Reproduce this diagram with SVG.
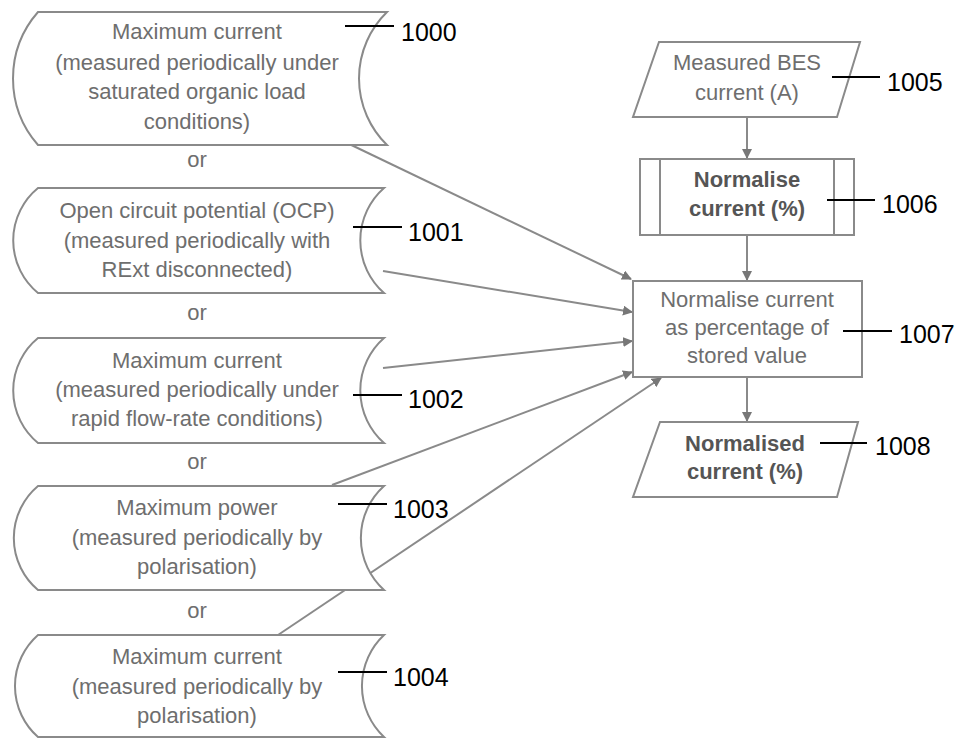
<svg xmlns="http://www.w3.org/2000/svg" width="961" height="740" viewBox="0 0 961 740">
<defs>
<style>
.sh{fill:#fff;stroke:#8a8a8a;stroke-width:2}
.t{font-family:"Liberation Sans",Arial,sans-serif;font-size:22px;fill:#6e6e6e;text-anchor:middle}
.b{font-weight:bold;fill:#555}
.lb{font-family:"Liberation Sans",Arial,sans-serif;font-size:25px;fill:#000}
.ld{stroke:#000;stroke-width:2}
.cn{stroke:#8a8a8a;stroke-width:2;fill:none;marker-end:url(#ah)}
</style>
<marker id="ah" viewBox="0 0 10 10" refX="9" refY="5" markerWidth="10" markerHeight="10" markerUnits="userSpaceOnUse" orient="auto">
<path d="M0,0 L10,5 L0,10 z" fill="#777"/>
</marker>
</defs>
<rect width="961" height="740" fill="#fff"/>

<g id="connectors">
<line class="cn" x1="343" y1="141" x2="631" y2="279"/>
<line class="cn" x1="383" y1="271" x2="632" y2="312"/>
<line class="cn" x1="383" y1="368" x2="632" y2="341"/>
<line class="cn" x1="332" y1="485" x2="632" y2="372"/>
<line class="cn" x1="278" y1="635" x2="661" y2="378"/>
<line class="cn" x1="747" y1="117" x2="747" y2="158"/>
<line class="cn" x1="747" y1="235" x2="747" y2="280"/>
<line class="cn" x1="747" y1="377" x2="747" y2="421"/>
</g>

<g id="n1000">
<path class="sh" d="M38,12 L387,12 A93,93 0 0 0 387,145 L38,145 A101,101 0 0 1 38,12 Z"/>
<text class="t" x="197" y="39">Maximum current</text>
<text class="t" x="197" y="70">(measured periodically under</text>
<text class="t" x="197" y="99">saturated organic load</text>
<text class="t" x="197" y="129">conditions)</text>
<line class="ld" x1="345" y1="26" x2="394" y2="26"/>
<text class="lb" x="401" y="41">1000</text>
</g>
<text class="t" x="197" y="167">or</text>

<g id="n1001">
<path class="sh" d="M38,188 L384,188 A70,70 0 0 0 384,293 L38,293 A68,68 0 0 1 38,188 Z"/>
<text class="t" x="197" y="218">Open circuit potential (OCP)</text>
<text class="t" x="197" y="248">(measured periodically with</text>
<text class="t" x="197" y="277">RExt disconnected)</text>
<line class="ld" x1="353" y1="227" x2="402" y2="227"/>
<text class="lb" x="408" y="241">1001</text>
</g>
<text class="t" x="197" y="320">or</text>

<g id="n1002">
<path class="sh" d="M38,338 L384,338 A70,70 0 0 0 384,443 L38,443 A68,68 0 0 1 38,338 Z"/>
<text class="t" x="197" y="368">Maximum current</text>
<text class="t" x="197" y="397">(measured periodically under</text>
<text class="t" x="197" y="426">rapid flow-rate conditions)</text>
<line class="ld" x1="353" y1="395" x2="402" y2="395"/>
<text class="lb" x="408" y="408">1002</text>
</g>
<text class="t" x="197" y="469">or</text>

<g id="n1003">
<path class="sh" d="M38,486 L384,486 A70,70 0 0 0 384,590 L38,590 A68,68 0 0 1 38,486 Z"/>
<text class="t" x="197" y="515">Maximum power</text>
<text class="t" x="197" y="545">(measured periodically by</text>
<text class="t" x="197" y="574">polarisation)</text>
<line class="ld" x1="338" y1="504" x2="387" y2="504"/>
<text class="lb" x="393" y="518">1003</text>
</g>
<text class="t" x="197" y="618">or</text>

<g id="n1004">
<path class="sh" d="M38,635 L384,635 A70,70 0 0 0 384,737 L38,737 A68,68 0 0 1 38,635 Z"/>
<text class="t" x="197" y="664">Maximum current</text>
<text class="t" x="197" y="694">(measured periodically by</text>
<text class="t" x="197" y="723">polarisation)</text>
<line class="ld" x1="338" y1="672" x2="387" y2="672"/>
<text class="lb" x="393" y="686">1004</text>
</g>

<g id="n1005">
<path class="sh" d="M659,42 L860,42 L837,117 L633,117 Z"/>
<text class="t" x="747" y="70">Measured BES</text>
<text class="t" x="747" y="100">current (A)</text>
<line class="ld" x1="832" y1="77" x2="880" y2="77"/>
<text class="lb" x="887" y="91">1005</text>
</g>

<g id="n1006">
<rect class="sh" x="640" y="159" width="214" height="76"/>
<line class="sh" x1="660" y1="159" x2="660" y2="235"/>
<line class="sh" x1="834" y1="159" x2="834" y2="235"/>
<text class="t b" x="747" y="187">Normalise</text>
<text class="t b" x="747" y="216">current (%)</text>
<line class="ld" x1="827" y1="200" x2="875" y2="200"/>
<text class="lb" x="882" y="213">1006</text>
</g>

<g id="n1007">
<rect class="sh" x="633" y="281" width="229" height="96"/>
<text class="t" x="747" y="307">Normalise current</text>
<text class="t" x="747" y="335">as percentage of</text>
<text class="t" x="747" y="363">stored value</text>
<line class="ld" x1="843" y1="331" x2="892" y2="331"/>
<text class="lb" x="899" y="343">1007</text>
</g>

<g id="n1008">
<path class="sh" d="M660,422 L858,422 L837,497 L633,497 Z"/>
<text class="t b" x="745" y="451">Normalised</text>
<text class="t b" x="745" y="479">current (%)</text>
<line class="ld" x1="820" y1="443" x2="867" y2="443"/>
<text class="lb" x="875" y="455">1008</text>
</g>
</svg>
